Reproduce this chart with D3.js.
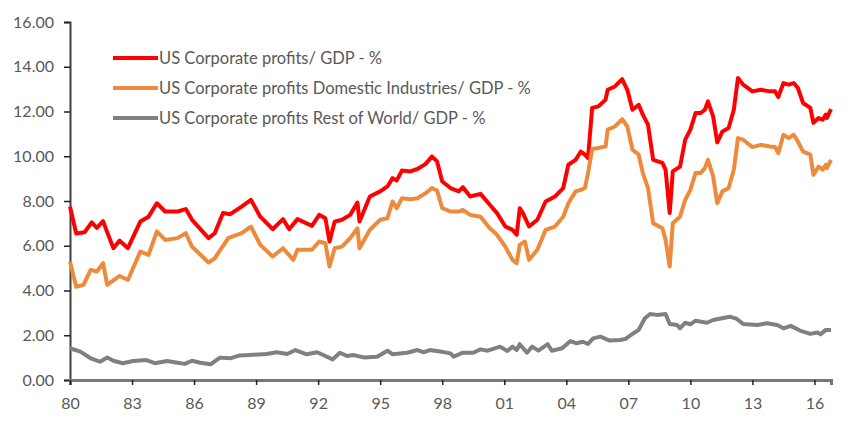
<!DOCTYPE html>
<html>
<head>
<meta charset="utf-8">
<script src="https://cdn.jsdelivr.net/npm/d3@7"></script>
<style>
  body { margin: 0; background: #fff; }
  svg { display: block; }
  text { font-family: Lato, "Open Sans", sans-serif; fill: #595959; }
</style>
</head>
<body>
<svg id="chart" width="865" height="437"></svg>
<script>
// Series as [decimal year, % of GDP]
const totalProfits = [
  [1980.0, 7.75], [1980.3, 6.55], [1980.7, 6.6], [1981.05, 7.04], [1981.3, 6.8], [1981.6, 7.1],
  [1981.8, 6.6], [1982.1, 5.89], [1982.4, 6.23], [1982.8, 5.89], [1983.4, 7.08], [1983.8, 7.3],
  [1984.2, 7.9], [1984.6, 7.53], [1985.2, 7.53], [1985.6, 7.64], [1985.9, 7.16], [1986.7, 6.34],
  [1987.0, 6.56], [1987.4, 7.46], [1987.75, 7.41], [1988.3, 7.75], [1988.75, 8.05], [1989.2, 7.3],
  [1989.8, 6.74], [1990.3, 7.19], [1990.6, 6.74], [1991.0, 7.19], [1991.7, 6.89], [1992.05, 7.38],
  [1992.35, 7.23], [1992.55, 6.19], [1992.8, 7.08], [1993.15, 7.16], [1993.55, 7.38], [1993.9, 7.93],
  [1994.0, 7.08], [1994.5, 8.2], [1995.0, 8.43], [1995.35, 8.65], [1995.6, 9.02], [1995.8, 8.92],
  [1996.05, 9.36], [1996.45, 9.32], [1996.8, 9.43], [1997.2, 9.66], [1997.5, 9.99], [1997.75, 9.77],
  [1998.0, 8.87], [1998.4, 8.58], [1998.8, 8.43], [1999.0, 8.62], [1999.35, 8.2], [1999.85, 8.32],
  [2000.3, 7.83], [2000.65, 7.46], [2001.05, 6.86], [2001.4, 6.71], [2001.6, 6.49], [2001.75, 7.68],
  [2001.9, 7.46], [2002.2, 6.86], [2002.6, 7.16], [2003.0, 7.98], [2003.45, 8.2], [2003.85, 8.58],
  [2004.1, 9.62], [2004.45, 9.84], [2004.7, 10.21], [2004.9, 10.07], [2005.05, 9.92], [2005.25, 12.16],
  [2005.55, 12.23], [2005.9, 12.53], [2006.0, 12.97], [2006.35, 13.12], [2006.7, 13.45], [2006.95, 12.97],
  [2007.2, 12.08], [2007.5, 12.3], [2007.7, 11.86], [2007.95, 11.41], [2008.2, 9.84], [2008.65, 9.7],
  [2008.8, 9.4], [2009.0, 7.46], [2009.15, 9.32], [2009.5, 9.54], [2009.75, 10.74], [2010.0, 11.19],
  [2010.25, 11.93], [2010.5, 11.93], [2010.7, 12.08], [2010.85, 12.45], [2011.1, 11.78], [2011.3, 10.62],
  [2011.55, 11.11], [2011.85, 11.26], [2012.1, 12.08], [2012.3, 13.5], [2012.55, 13.2], [2013.0, 12.9],
  [2013.4, 12.97], [2013.85, 12.9], [2014.1, 12.9], [2014.25, 12.65], [2014.5, 13.27], [2014.75, 13.2],
  [2015.0, 13.27], [2015.2, 13.05], [2015.45, 12.38], [2015.8, 12.16], [2015.95, 11.49], [2016.2, 11.71],
  [2016.4, 11.63], [2016.55, 11.86], [2016.6, 11.71], [2016.8, 12.11]
];

const domesticProfits = [
  [1980.0, 5.29], [1980.3, 4.17], [1980.65, 4.25], [1981.0, 4.92], [1981.3, 4.85], [1981.6, 5.22],
  [1981.8, 4.25], [1982.4, 4.65], [1982.8, 4.47], [1983.4, 5.74], [1983.8, 5.59], [1984.2, 6.64],
  [1984.6, 6.26], [1985.2, 6.34], [1985.6, 6.56], [1985.9, 5.96], [1986.7, 5.25], [1987.0, 5.44],
  [1987.65, 6.34], [1988.3, 6.56], [1988.75, 6.86], [1989.2, 6.04], [1989.8, 5.52], [1990.3, 5.89],
  [1990.8, 5.37], [1991.0, 5.82], [1991.7, 5.82], [1992.05, 6.19], [1992.35, 6.11], [1992.55, 5.07],
  [1992.8, 5.89], [1993.15, 5.96], [1993.55, 6.34], [1993.9, 6.78], [1994.0, 5.89], [1994.5, 6.71],
  [1995.0, 7.16], [1995.35, 7.23], [1995.6, 7.98], [1995.8, 7.68], [1996.05, 8.12], [1996.45, 8.08],
  [1996.8, 8.12], [1997.2, 8.35], [1997.5, 8.58], [1997.75, 8.47], [1998.0, 7.68], [1998.4, 7.53],
  [1998.8, 7.53], [1999.0, 7.6], [1999.35, 7.38], [1999.85, 7.3], [2000.3, 6.78], [2000.65, 6.49],
  [2001.05, 5.96], [2001.4, 5.37], [2001.6, 5.22], [2001.75, 6.04], [2002.0, 6.19], [2002.2, 5.37],
  [2002.6, 5.82], [2003.0, 6.71], [2003.45, 6.86], [2003.85, 7.3], [2004.1, 7.9], [2004.45, 8.43],
  [2004.7, 8.5], [2004.9, 8.58], [2005.05, 9.25], [2005.25, 10.32], [2005.55, 10.37], [2005.9, 10.44],
  [2006.0, 11.19], [2006.35, 11.33], [2006.7, 11.66], [2006.95, 11.33], [2007.2, 10.29], [2007.5, 10.07],
  [2007.7, 9.25], [2007.95, 8.58], [2008.2, 7.01], [2008.65, 6.78], [2008.8, 6.26], [2009.0, 5.07],
  [2009.15, 7.01], [2009.5, 7.3], [2009.75, 8.05], [2010.0, 8.5], [2010.25, 9.25], [2010.5, 9.25],
  [2010.7, 9.47], [2010.85, 9.84], [2011.1, 9.1], [2011.3, 7.9], [2011.55, 8.43], [2011.85, 8.58],
  [2012.1, 9.4], [2012.3, 10.81], [2012.55, 10.74], [2013.0, 10.41], [2013.4, 10.51], [2013.85, 10.44],
  [2014.1, 10.41], [2014.25, 10.14], [2014.5, 10.96], [2014.75, 10.81], [2015.0, 10.96], [2015.2, 10.66],
  [2015.45, 10.21], [2015.8, 10.07], [2015.95, 9.17], [2016.2, 9.54], [2016.4, 9.4], [2016.55, 9.62],
  [2016.6, 9.47], [2016.8, 9.84]
];

const restOfWorldProfits = [
  [1980.0, 1.42], [1980.5, 1.27], [1981.0, 0.97], [1981.45, 0.82], [1981.8, 1.01], [1982.1, 0.86],
  [1982.55, 0.75], [1983.05, 0.85], [1983.7, 0.89], [1984.1, 0.75], [1984.7, 0.85], [1985.2, 0.77],
  [1985.55, 0.72], [1985.9, 0.86], [1986.3, 0.77], [1986.8, 0.7], [1987.25, 1.0], [1987.75, 0.97],
  [1988.2, 1.1], [1988.7, 1.12], [1989.5, 1.16], [1990.0, 1.24], [1990.5, 1.16], [1990.9, 1.34],
  [1991.45, 1.15], [1991.95, 1.24], [1992.7, 0.92], [1993.05, 1.22], [1993.4, 1.07], [1993.7, 1.12],
  [1994.2, 1.01], [1994.85, 1.04], [1995.35, 1.31], [1995.6, 1.15], [1996.3, 1.22], [1996.8, 1.34],
  [1997.1, 1.24], [1997.4, 1.34], [1997.9, 1.27], [1998.4, 1.19], [1998.55, 1.04], [1999.0, 1.22],
  [1999.5, 1.22], [1999.85, 1.37], [2000.2, 1.31], [2000.8, 1.49], [2001.15, 1.3], [2001.4, 1.49],
  [2001.6, 1.34], [2001.75, 1.6], [2002.1, 1.22], [2002.35, 1.49], [2002.65, 1.31], [2003.1, 1.6],
  [2003.3, 1.31], [2003.8, 1.42], [2004.2, 1.74], [2004.5, 1.64], [2004.8, 1.71], [2005.05, 1.61],
  [2005.3, 1.86], [2005.65, 1.94], [2006.1, 1.76], [2006.6, 1.79], [2006.85, 1.83], [2007.25, 2.09],
  [2007.5, 2.24], [2007.8, 2.76], [2008.05, 2.95], [2008.4, 2.91], [2008.8, 2.95], [2009.0, 2.5],
  [2009.35, 2.46], [2009.5, 2.31], [2009.75, 2.56], [2010.0, 2.49], [2010.25, 2.65], [2010.8, 2.56],
  [2011.1, 2.68], [2011.9, 2.83], [2012.25, 2.73], [2012.55, 2.5], [2013.25, 2.46], [2013.7, 2.54],
  [2014.2, 2.46], [2014.5, 2.31], [2014.85, 2.42], [2015.3, 2.21], [2015.8, 2.06], [2016.15, 2.12],
  [2016.3, 2.04], [2016.55, 2.24], [2016.8, 2.24]
];

const seriesNames = [
  "US Corporate profits/ GDP - %",
  "US Corporate profits Domestic Industries/ GDP - %",
  "US Corporate profits Rest of World/ GDP - %"
];
const seriesColors = ["#ff0000", "#ed8a3c", "#808080"];
const xTickYears = d3.range(1980, 2017, 3);
const yTickValues = d3.range(0, 17, 2);

const svg = d3.select("#chart");
const margin = { left: 70, right: 34, top: 22, bottom: 57 };
const width = 865 - margin.left - margin.right;
const height = 437 - margin.top - margin.bottom;

const g = svg.append("g").attr("transform", `translate(${margin.left},${margin.top})`);

const x = d3.scaleLinear().domain([1980, 2016.8]).range([0, width]);
const y = d3.scaleLinear().domain([0, 16]).range([height, 0]);

// axes
const yAxis = g.append("g")
  .call(d3.axisLeft(y).tickValues(yTickValues).tickFormat(d3.format(".2f")).tickSize(6).tickPadding(10));
const xAxis = g.append("g")
  .attr("transform", `translate(0,${height})`)
  .call(d3.axisBottom(x).tickValues(xTickYears)
    .tickFormat(d => String(d % 100).padStart(2, "0")).tickSize(5).tickPadding(13));

[yAxis, xAxis].forEach(a => {
  a.select(".domain").attr("stroke", "#404040").attr("stroke-width", 2);
  a.selectAll(".tick line").attr("stroke", "#222").attr("stroke-width", 1.5);
  a.selectAll("text").style("font-size", "16px").attr("fill", "#595959");
});
xAxis.select(".domain").attr("stroke", "#777").attr("stroke-width", 3);

// lines
const line = d3.line().x(d => x(d[0])).y(d => y(d[1]));
const allSeries = [totalProfits, domesticProfits, restOfWorldProfits];

g.selectAll(".series")
  .data(allSeries)
  .enter()
  .append("path")
  .attr("class", "series")
  .attr("d", line)
  .attr("fill", "none")
  .attr("stroke", (d, i) => seriesColors[i])
  .attr("stroke-width", 4)
  .attr("stroke-linejoin", "round");

// legend
const legend = svg.append("g").attr("transform", "translate(113,58)");
const item = legend.selectAll("g")
  .data(seriesNames)
  .enter()
  .append("g")
  .attr("transform", (d, i) => `translate(0,${i * 30})`);

item.append("line")
  .attr("x1", 0).attr("x2", 45)
  .attr("stroke", (d, i) => seriesColors[i])
  .attr("stroke-width", 4);

item.append("text")
  .attr("x", 46)
  .attr("dy", "0.35em")
  .style("font-size", "16.5px")
  .attr("fill", "#595959")
  .text(d => d);
</script>
</body>
</html>
